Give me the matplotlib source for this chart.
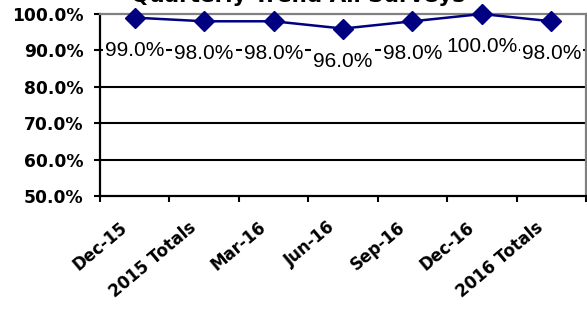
import matplotlib
matplotlib.use("Agg")
from matplotlib import pyplot as plt
from matplotlib import transforms
from matplotlib.path import Path
import numpy as np

# data
periods = ["Dec-15", "2015 Totals", "Mar-16", "Jun-16", "Sep-16", "Dec-16", "2016 Totals"]
scores = [99.0, 98.0, 98.0, 96.0, 98.0, 100.0, 98.0]
y_ticks = [50, 60, 70, 80, 90, 100]
title = "Quarterly Trend All Surveys"

navy = "#000080"
grey = "#808080"


def label_box(x0, y0, width, height, mutation_size):
    # narrow on the sides, tall above and below (like Excel label boxes)
    px, py = 2.0, 6.0
    return Path.unit_rectangle().transformed(
        transforms.Affine2D().scale(width + 2 * px, height + 2 * py)
        .translate(x0 - px, y0 - py))


fig = plt.figure(figsize=(5.87, 3.11), dpi=100)
ax = fig.add_axes([100 / 587, 1 - 196 / 311, 486 / 587, 182 / 311])

x = np.arange(len(periods))
ax.plot(x, scores, color=navy, linewidth=1.8, marker="D", markersize=10.5,
        markerfacecolor=navy, markeredgecolor=navy, zorder=4, clip_on=False)

# data labels, white box hides the 90% gridline behind them
for xi, v in zip(x, scores):
    ax.annotate(f"{v:.1f}%", (xi, v), xytext=(0, -23.5), textcoords="offset points",
                ha="center", va="center", fontsize=15, family="Liberation Sans",
                bbox=dict(boxstyle=label_box, facecolor="white", edgecolor="none"),
                zorder=3)

ax.set_xlim(-0.5, len(periods) - 0.5)
ax.set_ylim(50, 100)

# horizontal gridlines
for g in y_ticks[1:-1]:
    ax.axhline(g, color="black", linewidth=1.5, zorder=1)

ax.set_yticks(y_ticks)
ax.set_yticklabels([f"{t:.1f}%" for t in y_ticks], fontsize=12.3,
                   fontweight="bold", family="DejaVu Sans")
ax.tick_params(axis="y", direction="out", length=4, width=1.5, pad=8)

ax.set_xticks(x)
ax.set_xticklabels(periods, rotation=40, ha="right", va="center",
                   rotation_mode="anchor", fontsize=12, fontweight="bold",
                   family="DejaVu Sans")
ax.tick_params(axis="x", which="major", length=0, pad=21)
shift = transforms.ScaledTranslation(-10 / 100, 0, fig.dpi_scale_trans)
for lbl in ax.get_xticklabels():
    lbl.set_transform(lbl.get_transform() + shift)
ax.set_xticks(np.arange(-0.5, len(periods)), minor=True)
ax.tick_params(axis="x", which="minor", direction="out", length=4, width=1.5)

for side in ["left", "bottom"]:
    ax.spines[side].set_color("black")
    ax.spines[side].set_linewidth(1.6)
for side in ["top", "right"]:
    ax.spines[side].set_color(grey)
    ax.spines[side].set_linewidth(1.6)

fig.text(298 / 587, 1 - 2 / 311, title, ha="center", va="baseline",
         fontsize=15.5, fontweight="bold", family="DejaVu Sans")

fig.savefig("out.png", dpi=100)
